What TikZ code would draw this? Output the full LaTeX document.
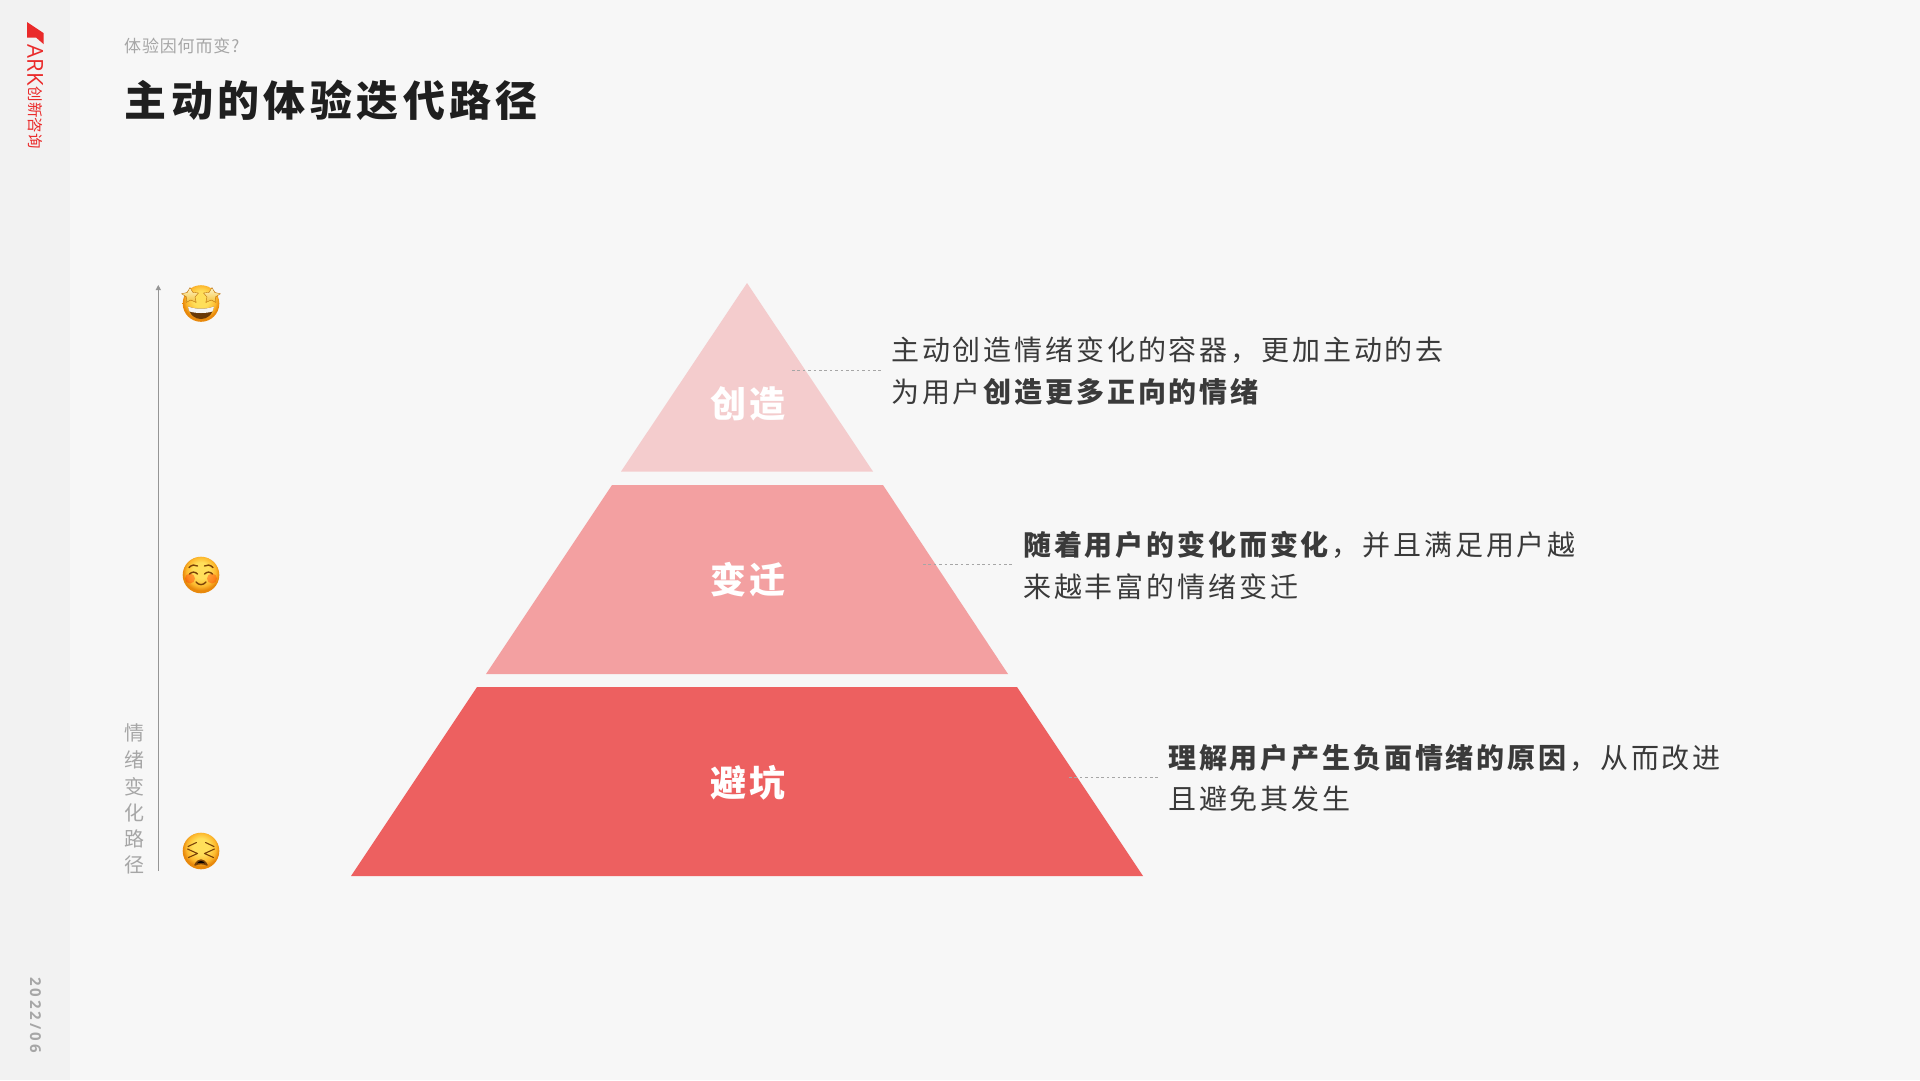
\documentclass[tikz,border=0pt]{standalone}
\usepackage{fontspec}
\setmainfont{Noto Sans CJK SC}
\newfontfamily\titlefont[LetterSpace=10.5]{Noto Sans CJK SC}
\newfontfamily\bodyfont[LetterSpace=10.2]{Noto Sans CJK SC}
\newfontfamily\tagfont[LetterSpace=11]{Noto Sans CJK SC}
\newfontfamily\subfont[LetterSpace=5]{Noto Sans CJK SC}
\newfontfamily\datefont[LetterSpace=20]{Open Sans}
\newfontfamily\logofont{Open Sans}
\definecolor{pagebg}{HTML}{F7F7F7}
\definecolor{sidebg}{HTML}{F2F2F2}
\definecolor{inkdark}{HTML}{3A3A3A}
\definecolor{titleink}{HTML}{1F1F1F}
\definecolor{inkgray}{HTML}{A6A6A6}
\definecolor{logored}{HTML}{EA2A2A}
\definecolor{tiertop}{HTML}{F4CCCD}
\definecolor{tiermid}{HTML}{F3A0A1}
\definecolor{tierlow}{HTML}{ED6060}
\definecolor{facerim}{HTML}{E8890C}
\definecolor{facemid}{HTML}{FDB92E}
\definecolor{facetop}{HTML}{FFDF5A}
\definecolor{facemark}{HTML}{7A4208}
\definecolor{startop}{HTML}{FFF6C8}
\definecolor{starfoot}{HTML}{F4C23A}
\pgfdeclareradialshading{emojiface}{\pgfpoint{0bp}{8bp}}{%
  color(0bp)=(facetop); color(11bp)=(facetop); color(20bp)=(facemid);
  color(25bp)=(facerim); color(50bp)=(facerim)}
\tikzset{
  bodytext/.style={anchor=west,inner sep=0pt,text=inkdark,font=\fontsize{28}{32}\bodyfont},
  tiertag/.style={inner sep=0pt,text=white,font=\fontsize{36}{40}\tagfont\bfseries},
  leader/.style={draw=inkgray,line width=0.9pt,dash pattern=on 2.5pt off 2.9pt},
  facemark/.style={draw=facemark,line width=1.4pt,line cap=round,line join=round},
  starshape/.style={top color=startop,bottom color=starfoot,draw=facerim!80!black,line width=0.4pt,line join=round}
}
\begin{document}
\begin{tikzpicture}[x=1pt,y=-1pt,line cap=butt]
  \useasboundingbox (0,0) rectangle (1920,1080);
  \fill[pagebg] (0,0) rectangle (1920,1080);
  \fill[sidebg] (0,0) rectangle (70,1080);
  % logo and date
  \fill[logored] (27,22) -- (43.5,33) -- (43.5,44) -- (36,37.5) -- (27,37.5) -- cycle;
  \node[rotate=-90,inner sep=0pt,text=logored,font=\fontsize{22}{24}\logofont] (logoark) at (35.2,65) {ARK};
  \node[rotate=-90,inner sep=0pt,text=logored,font=\fontsize{15.5}{18}\selectfont] (logocn) at (35.2,117.5) {创新咨询};
  \node[rotate=-90,inner sep=0pt,text=inkgray,font=\fontsize{15}{18}\datefont\bfseries] (datemark) at (35.5,1015) {2022/06};
  % heading
  \node[anchor=west,inner sep=0pt,text=inkgray,font=\fontsize{17}{20}\subfont] (subhead) at (124,46) {体验因何而变?};
  \node[anchor=west,inner sep=0pt,text=titleink,font=\fontsize{42}{48}\titlefont\bfseries] (headline) at (124.5,100) {主动的体验迭代路径};
  % pyramid
  \fill[tiertop] (747,283) -- (873,471.5) -- (621,471.5) -- cycle;
  \fill[tiermid] (612,485) -- (883,485) -- (1008,674) -- (486,674) -- cycle;
  \fill[tierlow] (477,687) -- (1017,687) -- (1143,876) -- (351,876) -- cycle;
  \node[tiertag] (tagtop) at (748,404) {创造};
  \node[tiertag] (tagmid) at (748,580) {变迁};
  \node[tiertag] (taglow) at (748,783) {避坑};
  % notes
  \node[bodytext] (notetopa) at (891,350) {主动创造情绪变化的容器，更加主动的去};
  \node[bodytext] (notetopb) at (891,392) {为用户\textbf{创造更多正向的情绪}};
  \node[bodytext] (notemida) at (1023,545) {\textbf{随着用户的变化而变化}，并且满足用户越};
  \node[bodytext] (notemidb) at (1023,587) {来越丰富的情绪变迁};
  \node[bodytext] (notelowa) at (1168,758) {\textbf{理解用户产生负面情绪的原因}，从而改进};
  \node[bodytext] (notelowb) at (1168,799) {且避免其发生};
  \coordinate (leadtop) at (792,370);
  \coordinate (leadmid) at (923,564);
  \coordinate (leadlow) at (1069,777);
  \draw[leader] (leadtop) -- ++(89,0);
  \draw[leader] (leadmid) -- ++(89,0);
  \draw[leader] (leadlow) -- ++(89,0);
  % axis
  \coordinate (axisfoot) at (158.3,871);
  \coordinate (axistip) at (158.3,288);
  \draw[draw=inkgray!90!black,line width=1.1pt] (axisfoot) -- (axistip);
  \fill[inkgray!90!black] (158.3,285) -- (161,290) -- (155.6,290) -- cycle;
  \foreach \ch/\yy in {情/733,绪/760,变/786.5,化/812.5,路/838.5,径/865}
    \node[inner sep=0pt,text=inkgray,font=\fontsize{20}{22}\selectfont] at (134,\yy) {\ch};
  % star face
  \begin{scope}[shift={(201,303.5)}]
    \shade[shading=emojiface] (0,0) circle[radius=18.3];
    \fill[facemark!85!black] (-13,3) .. controls (-5,6) and (5,6) .. (13,3) .. controls (11,12) and (6,15.5) .. (0,15.5) .. controls (-6,15.5) and (-11,12) .. (-13,3) -- cycle;
    \fill[white!92!gray] (-13,3) .. controls (-5,6) and (5,6) .. (13,3) .. controls (12.6,5.5) and (12,7) .. (11.4,8) .. controls (5,10) and (-5,10) .. (-11.4,8) .. controls (-12,7) and (-12.6,5.5) .. (-13,3) -- cycle;
    \shade[starshape] (-11,-16) -- (-8.2,-11.2) -- (-2.5,-10.5) -- (-6,-6.5) -- (-4.8,-1) -- (-10.2,-3.5) -- (-15,-1) -- (-14.2,-6.4) -- (-19.5,-9.8) -- (-13.8,-11) -- cycle;
    \shade[starshape] (11,-16) -- (8.2,-11.2) -- (2.5,-10.5) -- (6,-6.5) -- (4.8,-1) -- (10.2,-3.5) -- (15,-1) -- (14.2,-6.4) -- (19.5,-9.8) -- (13.8,-11) -- cycle;
  \end{scope}
  % calm face
  \begin{scope}[shift={(201,575)}]
    \shade[shading=emojiface] (0,0) circle[radius=18.3];
    \fill[red!70!orange,opacity=0.35] (-11,3.5) circle[radius=5];
    \fill[red!70!orange,opacity=0.35] (11,3.5) circle[radius=5];
    \draw[facemark] (-12,-7.5) .. controls (-9,-10.5) and (-6,-10.5) .. (-3.5,-9);
    \draw[facemark] (12,-7.5) .. controls (9,-10.5) and (6,-10.5) .. (3.5,-9);
    \draw[facemark] (-11.5,-1) .. controls (-9,-3.5) and (-6,-3.5) .. (-3.5,-1);
    \draw[facemark] (11.5,-1) .. controls (9,-3.5) and (6,-3.5) .. (3.5,-1);
    \draw[facemark] (-5,7) .. controls (-2,10.5) and (2,10.5) .. (5,7);
  \end{scope}
  % hurt face
  \begin{scope}[shift={(201,851)}]
    \shade[shading=emojiface] (0,0) circle[radius=18.3];
    \draw[facemark,line width=1.1pt] (-13,-4.5) -- (-4.5,-8.5);
    \draw[facemark,line width=1.1pt] (13,-4.5) -- (4.5,-8.5);
    \draw[facemark,line width=1.1pt] (-13.5,-2) -- (-3.5,2.5) -- (-12.5,6.5);
    \draw[facemark,line width=1.1pt] (13.5,-2) -- (3.5,2.5) -- (12.5,6.5);
    \fill[facemark] (-6,14) .. controls (-4.5,10.5) and (-2,9) .. (0,9) .. controls (2,9) and (4.5,10.5) .. (6,14) .. controls (3,12.2) and (-3,12.2) .. (-6,14) -- cycle;
  \end{scope}
\end{tikzpicture}
\end{document}
